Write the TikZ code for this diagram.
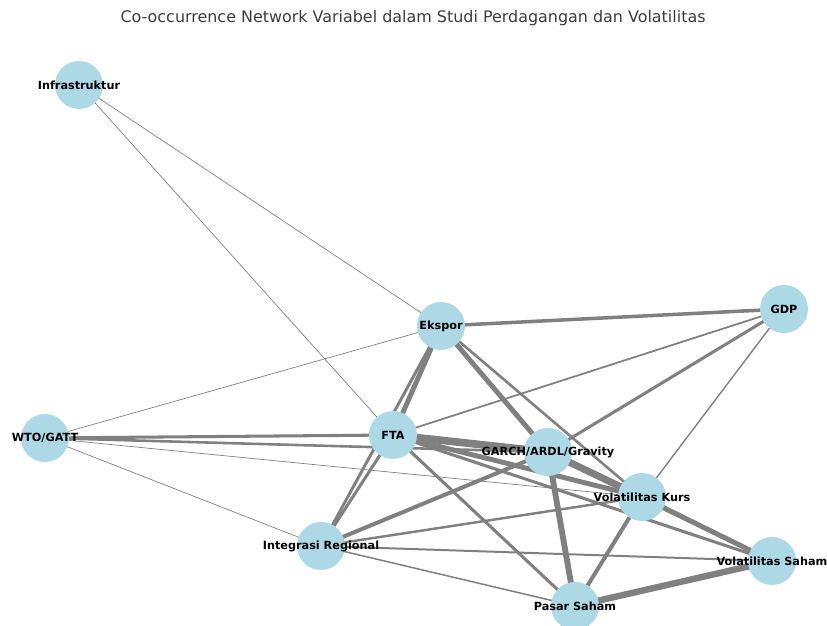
\documentclass[tikz,border=0pt]{standalone}
\usepackage{fontspec}
\setmainfont{DejaVu Sans}
\usepackage{xcolor}
\usepackage{tikz}
\usetikzlibrary{backgrounds}
\definecolor{simpul}{RGB}{173,216,230}
\definecolor{garis}{RGB}{128,128,128}
\definecolor{judul}{RGB}{60,60,60}

\begin{document}
\begin{tikzpicture}[
  x=0.03cm, y=-0.03cm,
  var/.style={circle, fill=simpul, inner sep=0pt, minimum size=1.44cm, font=\fontsize{9.6}{11}\selectfont\bfseries},
  ed/.style={draw=garis, line width=#1}
]
\useasboundingbox (0,0) rectangle (827,626);
% judul
\node[font=\fontsize{13.6}{16}\selectfont, text=judul] (title) at (413,18) {Co-occurrence Network Variabel dalam Studi Perdagangan dan Volatilitas};
% simpul
\node[var] (infra) at (79,85) {\makebox[0pt]{Infrastruktur}};
\node[var] (ekspor) at (441,326) {\makebox[0pt]{Ekspor}};
\node[var] (gdp) at (784,309) {\makebox[0pt]{GDP}};
\node[var] (wto) at (45,438) {\makebox[0pt]{WTO/GATT}};
\node[var] (fta) at (393,435) {\makebox[0pt]{FTA}};
\node[var] (garch) at (548,452) {\makebox[0pt]{GARCH/ARDL/Gravity}};
\node[var] (kurs) at (642,497) {\makebox[0pt]{Volatilitas Kurs}};
\node[var] (integ) at (321,546) {\makebox[0pt]{Integrasi Regional}};
\node[var] (saham) at (772,561) {\makebox[0pt]{Volatilitas Saham}};
\node[var] (pasar) at (575,606) {\makebox[0pt]{Pasar Saham}};
% garis
\begin{scope}[on background layer]
\draw[ed=0.6pt] (infra.center) -- (ekspor.center);
\draw[ed=0.6pt] (infra.center) -- (fta.center);
\draw[ed=0.6pt] (wto.center) -- (ekspor.center);
\draw[ed=2.6pt] (wto.center) -- (fta.center);
\draw[ed=2.2pt] (wto.center) -- (garch.center);
\draw[ed=0.6pt] (wto.center) -- (kurs.center);
\draw[ed=0.6pt] (wto.center) -- (integ.center);
\draw[ed=3pt] (ekspor.center) -- (gdp.center);
\draw[ed=4.2pt] (ekspor.center) -- (fta.center);
\draw[ed=2.5pt] (ekspor.center) -- (integ.center);
\draw[ed=4.2pt] (ekspor.center) -- (garch.center);
\draw[ed=2.2pt] (ekspor.center) -- (kurs.center);
\draw[ed=1.5pt] (gdp.center) -- (fta.center);
\draw[ed=2.6pt] (gdp.center) -- (garch.center);
\draw[ed=1.2pt] (gdp.center) -- (kurs.center);
\draw[ed=6.5pt] (fta.center) -- (garch.center);
\draw[ed=4.2pt] (fta.center) -- (kurs.center);
\draw[ed=2.6pt] (fta.center) -- (saham.center);
\draw[ed=2.6pt] (fta.center) -- (pasar.center);
\draw[ed=2.6pt] (fta.center) -- (integ.center);
\draw[ed=6pt] (garch.center) -- (kurs.center);
\draw[ed=3.4pt] (garch.center) -- (saham.center);
\draw[ed=5pt] (garch.center) -- (pasar.center);
\draw[ed=3.4pt] (garch.center) -- (integ.center);
\draw[ed=4.2pt] (kurs.center) -- (saham.center);
\draw[ed=3.4pt] (kurs.center) -- (pasar.center);
\draw[ed=2.1pt] (kurs.center) -- (integ.center);
\draw[ed=1.7pt] (integ.center) -- (saham.center);
\draw[ed=1.3pt] (integ.center) -- (pasar.center);
\draw[ed=5.5pt] (pasar.center) -- (saham.center);
\end{scope}
\end{tikzpicture}
\end{document}
